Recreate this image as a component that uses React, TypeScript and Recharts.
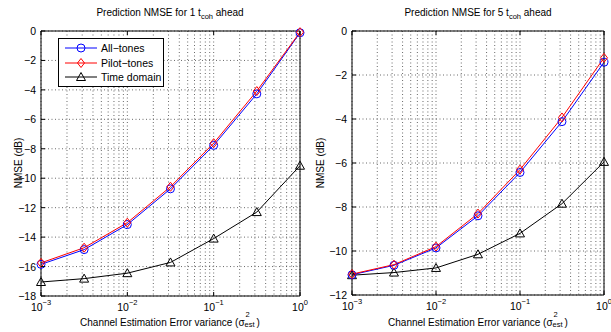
import { LineChart, Line, XAxis, YAxis, CartesianGrid } from 'recharts';

const xValues = [0.001, 0.00316, 0.01, 0.0316, 0.1, 0.316, 1];

const left_allTones = [-15.85, -14.85, -13.15, -10.72, -7.77, -4.27, -0.12];
const left_pilotTones = [-15.75, -14.72, -13.02, -10.58, -7.62, -4.08, -0.08];
const left_timeDomain = [-17.05, -16.82, -16.45, -15.72, -14.1, -12.3, -9.15];

const right_allTones = [-11.08, -10.65, -9.86, -8.4, -6.43, -4.12, -1.42];
const right_pilotTones = [-11.05, -10.62, -9.8, -8.3, -6.3, -3.93, -1.22];
const right_timeDomain = [-11.1, -10.98, -10.77, -10.15, -9.2, -7.85, -5.95];

const xDomain = [0.001, 1];
const xTicks = [0.001, 0.01, 0.1, 1];
const xTickExponents = ['\u22123', '\u22122', '\u22121', '0'];
const minorTicks = [
  0.001, 0.002, 0.003, 0.004, 0.005, 0.006, 0.007, 0.008, 0.009,
  0.01, 0.02, 0.03, 0.04, 0.05, 0.06, 0.07, 0.08, 0.09,
  0.1, 0.2, 0.3, 0.4, 0.5, 0.6, 0.7, 0.8, 0.9, 1,
];
const leftYTicks = [-18, -16, -14, -12, -10, -8, -6, -4, -2, 0];
const rightYTicks = [-12, -10, -8, -6, -4, -2, 0];

const FONT = '"Liberation Sans", Arial, Helvetica, sans-serif';
const BLUE = '#0000ff';
const RED = '#ff0000';

const fmtY = (v: number) => (v < 0 ? '\u2212' + Math.abs(v) : String(v));

const BottomTick = ({ x, y, payload }: any) => {
  const i = xTicks.indexOf(payload.value);
  return (
    <g>
      <line x1={x} x2={x} y1={y} y2={y - 4} stroke="#000" />
      <text x={x} y={y + 15} textAnchor="middle" fontSize={10.5} fontFamily={FONT} fill="#000">
        10<tspan dy={-6} fontSize={7.5}>{xTickExponents[i]}</tspan>
      </text>
    </g>
  );
};

const TopTick = ({ x, y }: any) => <line x1={x} x2={x} y1={y} y2={y + 4} stroke="#000" />;

const LeftTick = ({ x, y, payload }: any) => (
  <g>
    <line x1={x} x2={x + 4} y1={y} y2={y} stroke="#000" />
    <text x={x - 5} y={y + 4} textAnchor="end" fontSize={10.5} fontFamily={FONT} fill="#000">
      {fmtY(payload.value)}
    </text>
  </g>
);

const RightTick = ({ x, y }: any) => <line x1={x} x2={x - 4} y1={y} y2={y} stroke="#000" />;

const Diamond = ({ cx, cy, stroke }: any) => (
  <path d={`M${cx},${cy - 4.5}L${cx + 3.5},${cy}L${cx},${cy + 4.5}L${cx - 3.5},${cy}Z`} fill="none" stroke={stroke} />
);

const Triangle = ({ cx, cy, stroke }: any) => (
  <path d={`M${cx},${cy - 4.5}L${cx + 4.5},${cy + 3.5}L${cx - 4.5},${cy + 3.5}Z`} fill="none" stroke={stroke} />
);

// dotted grid at every log minor value
const minorGrid = ({ xAxis, offset }: any) => {
  const s = xAxis && xAxis.scale;
  if (typeof s === 'function') return minorTicks.map((v) => s(v));
  const lo = Math.log10(xDomain[0]);
  const hi = Math.log10(xDomain[1]);
  return minorTicks.map((v) => offset.left + (offset.width * (Math.log10(v) - lo)) / (hi - lo));
};

function Panel({ all, pilot, time, yTicks, yLabelWidth, chartWidth, rightMargin, bottomMargin }: any) {
  const data = xValues.map((x, i) => ({ x, all: all[i], pilot: pilot[i], time: time[i] }));
  const domain = [yTicks[0], yTicks[yTicks.length - 1]];
  return (
    <LineChart width={chartWidth} height={332} data={data} margin={{ top: 30, right: rightMargin, bottom: bottomMargin, left: 0 }}>
      <CartesianGrid
        xAxisId="bottom"
        yAxisId="left"
        stroke="#444"
        strokeDasharray="1 2.5"
        strokeWidth={0.8}
        verticalCoordinatesGenerator={minorGrid}
      />
      <XAxis
        xAxisId="bottom"
        dataKey="x"
        type="number"
        scale="log"
        domain={xDomain}
        ticks={xTicks}
        height={1}
        tickSize={0}
        tickMargin={0}
        tickLine={false}
        axisLine={{ stroke: '#000' }}
        tick={<BottomTick />}
      />
      <XAxis
        xAxisId="top"
        orientation="top"
        dataKey="x"
        type="number"
        scale="log"
        domain={xDomain}
        ticks={xTicks}
        height={1}
        tickSize={0}
        tickMargin={0}
        tickLine={false}
        axisLine={{ stroke: '#000' }}
        tick={<TopTick />}
      />
      <YAxis
        yAxisId="left"
        type="number"
        domain={domain}
        ticks={yTicks}
        width={yLabelWidth}
        tickSize={0}
        tickMargin={0}
        tickLine={false}
        axisLine={{ stroke: '#000' }}
        tick={<LeftTick />}
      />
      <YAxis
        yAxisId="right"
        orientation="right"
        type="number"
        domain={domain}
        ticks={yTicks}
        width={1}
        tickSize={0}
        tickMargin={0}
        tickLine={false}
        axisLine={{ stroke: '#000' }}
        tick={<RightTick />}
      />
      <Line xAxisId="bottom" yAxisId="left" dataKey="time" stroke="#000" strokeWidth={1} isAnimationActive={false}
        dot={(p: any) => <Triangle key={`t${p.index}`} cx={p.cx} cy={p.cy} stroke="#000" />} />
      <Line xAxisId="bottom" yAxisId="left" dataKey="all" stroke={BLUE} strokeWidth={1} isAnimationActive={false}
        dot={{ r: 4, fill: 'none', stroke: BLUE, strokeWidth: 1 }} />
      <Line xAxisId="bottom" yAxisId="left" dataKey="pilot" stroke={RED} strokeWidth={1} isAnimationActive={false}
        dot={(p: any) => <Diamond key={`d${p.index}`} cx={p.cx} cy={p.cy} stroke={RED} />} />
    </LineChart>
  );
}

const Title = ({ center, n }: { center: number; n: number }) => (
  <div style={{ position: 'absolute', left: center - 150, width: 300, top: 7, textAlign: 'center', fontSize: 10, fontFamily: FONT, lineHeight: '12px' }}>
    Prediction NMSE for {n} t<sub style={{ fontSize: 7.5, verticalAlign: '-3px', lineHeight: 0 }}>coh</sub> ahead
  </div>
);

const XLabel = ({ center }: { center: number }) => (
  <div style={{ position: 'absolute', left: center - 150, width: 300, top: 316, textAlign: 'center', fontSize: 10, fontFamily: FONT, lineHeight: '12px' }}>
    Channel Estimation Error variance (σ
    <span style={{ position: 'relative', display: 'inline-block', width: 12, height: 10 }}>
      <span style={{ position: 'absolute', left: 1, top: -5, fontSize: 7.5, lineHeight: '8px' }}>2</span>
      <span style={{ position: 'absolute', left: 0, top: 5, fontSize: 7.5, lineHeight: '8px' }}>est</span>
    </span>
    )
  </div>
);

const YLabel = ({ center }: { center: number }) => (
  <div style={{ position: 'absolute', left: center - 50, top: 157, width: 100, textAlign: 'center', transform: 'rotate(-90deg)', fontSize: 10, fontFamily: FONT, lineHeight: '12px' }}>
    NMSE (dB)
  </div>
);

const legendItems = [
  { name: 'All\u2212tones', color: BLUE, marker: 'circle' },
  { name: 'Pilot\u2212tones', color: RED, marker: 'diamond' },
  { name: 'Time domain', color: '#000', marker: 'triangle' },
];

const LegendBox = () => (
  <div style={{ position: 'absolute', left: 58, top: 38, width: 104, height: 47, border: '1.3px solid #000', background: '#fff', fontFamily: FONT, fontSize: 10.5 }}>
    {legendItems.map((it, i) => (
      <div key={it.name} style={{ position: 'absolute', left: 5, top: 2 + i * 14.5, height: 14, display: 'flex', alignItems: 'center' }}>
        <svg width={34} height={14}>
          <line x1={1} x2={33} y1={7} y2={7} stroke={it.color} />
          {it.marker === 'circle' && <circle cx={17} cy={7} r={4} fill="none" stroke={it.color} />}
          {it.marker === 'diamond' && <Diamond cx={17} cy={7} stroke={it.color} />}
          {it.marker === 'triangle' && <Triangle cx={17} cy={7} stroke={it.color} />}
        </svg>
        <span style={{ marginLeft: 3 }}>{it.name}</span>
      </div>
    ))}
  </div>
);

export default function App() {
  return (
    <div style={{ position: 'absolute', left: 0, top: 0, width: 611, height: 332, background: '#fff', overflow: 'hidden' }}>
      <div style={{ position: 'absolute', left: 0, top: 0 }}>
        <Panel all={left_allTones} pilot={left_pilotTones} time={left_timeDomain} yTicks={leftYTicks} yLabelWidth={41} chartWidth={312} rightMargin={11} bottomMargin={35} />
      </div>
      <div style={{ position: 'absolute', left: 306, top: 0 }}>
        <Panel all={right_allTones} pilot={right_pilotTones} time={right_timeDomain} yTicks={rightYTicks} yLabelWidth={46} chartWidth={305} rightMargin={6} bottomMargin={36} />
      </div>
      <Title center={170} n={1} />
      <Title center={478} n={5} />
      <XLabel center={170} />
      <XLabel center={478} />
      <YLabel center={19} />
      <YLabel center={321} />
      <LegendBox />
    </div>
  );
}
